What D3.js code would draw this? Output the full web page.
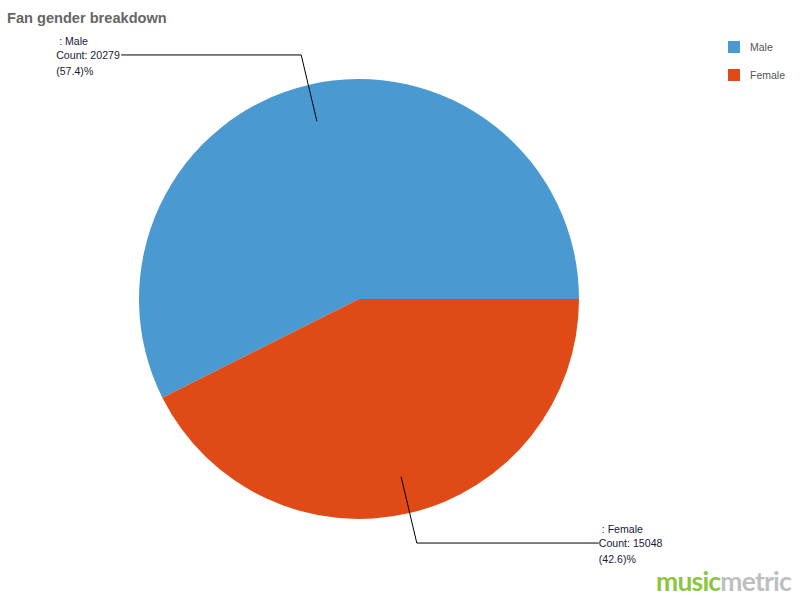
<!DOCTYPE html>
<html>
<head>
<meta charset="utf-8">
<script src="https://cdn.jsdelivr.net/npm/d3@7"></script>
<style>
  html, body { margin: 0; padding: 0; background: #fff; }
  svg { display: block; }
</style>
</head>
<body>
<svg id="chart" width="800" height="600"></svg>
<script>
const categories = ["Male", "Female"];
const counts = [20279, 15048];
const percents = ["57.4", "42.6"];
const colors = ["#4A9AD1", "#DF4A16"];

const svg = d3.select("#chart");
const cx = 359, cy = 299, R = 220;

svg.append("text")
  .attr("x", 7).attr("y", 23)
  .attr("font-family", "Liberation Sans, Arial, sans-serif")
  .attr("font-size", 14.6).attr("font-weight", "bold")
  .attr("fill", "#666")
  .text("Fan gender breakdown");

const data = categories.map((c, i) => ({ name: c, value: counts[i], pct: percents[i], color: colors[i] }));

const pie = d3.pie().sort(null).value(d => d.value)
  .startAngle(Math.PI / 2).endAngle(Math.PI / 2 - 2 * Math.PI);
const arcs = pie(data);
const arc = d3.arc().innerRadius(0).outerRadius(R);

const g = svg.append("g").attr("transform", `translate(${cx},${cy})`);
g.selectAll("path").data(arcs).enter().append("path")
  .attr("d", arc)
  .attr("fill", d => d.data.color);

const font = "Liberation Sans, Arial, sans-serif";
arcs.forEach(a => {
  const mid = (a.startAngle + a.endAngle) / 2;
  const dx = Math.sin(mid), dy = -Math.cos(mid);
  const r1 = R * 0.83, r2 = R * 1.14;
  const p1 = [dx * r1, dy * r1], p2 = [dx * r2, dy * r2];
  const left = dx < 0;
  const p3 = [p2[0] + (left ? -180 : 182), p2[1]];
  g.append("polyline")
    .attr("points", [p1, p2, p3].map(p => p.join(",")).join(" "))
    .attr("fill", "none").attr("stroke", "#000").attr("stroke-width", 1);
  const t = g.append("text")
    .attr("font-family", font).attr("font-size", 10.6).attr("fill", "#1a1a33");
  const lines = [" : " + a.data.name, "Count: " + a.data.value, "(" + a.data.pct + ")%"];
  const offs = [-10, 4, 20];
  const x0 = left ? p3[0] - 65 : p3[0];
  lines.forEach((l, i) => {
    t.append("tspan").attr("x", x0).attr("y", p3[1] + offs[i])
      .style("white-space", "pre").text(l);
  });
});

const legend = svg.append("g").attr("transform", "translate(728,41)");
categories.forEach((c, i) => {
  legend.append("rect").attr("x", 0).attr("y", i * 28).attr("width", 12).attr("height", 12)
    .attr("fill", colors[i]);
  legend.append("text").attr("x", 22).attr("y", i * 28 + 10)
    .attr("font-family", font).attr("font-size", 10.5).attr("fill", "#555")
    .text(c);
});

const logo = svg.append("text").attr("x", 656).attr("y", 591)
  .attr("font-family", "Lato, Open Sans, sans-serif").attr("font-size", 26.5)
  .attr("font-weight", "bold").attr("letter-spacing", -0.8);
logo.append("tspan").attr("fill", "#8CC63F").text("music");
logo.append("tspan").attr("fill", "#BDBFC1").text("metric");
</script>
</body>
</html>
